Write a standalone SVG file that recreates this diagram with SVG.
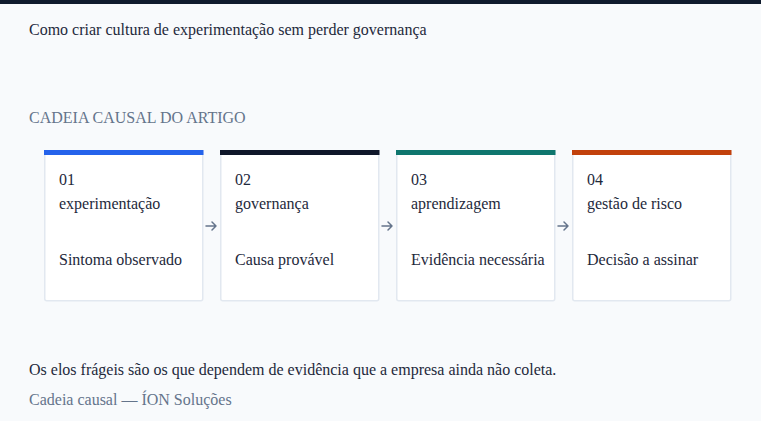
<svg xmlns="http://www.w3.org/2000/svg" width="761" height="421" viewBox="0 0 761 421">
<defs>
<style>
text{font-family:"Liberation Serif","Times New Roman",serif;font-size:16px}
.dark{fill:#1e293b}
.muted{fill:#64748b}
.card{fill:#ffffff;stroke:#e2e8f0;stroke-width:1.5}
.conn{stroke:#64748b;stroke-width:1.5;fill:none;stroke-linecap:round;stroke-linejoin:round}
</style>
</defs>
<rect x="0" y="0" width="761" height="421" fill="#f8fafc"/>
<rect x="0" y="0" width="761" height="4" fill="#0f1b2d"/>
<text x="29" y="35" class="dark">Como criar cultura de experimentação sem perder governança</text>
<text x="29" y="123" class="muted">CADEIA CAUSAL DO ARTIGO</text>

<g id="node-01">
<rect class="card" x="44.75" y="150.75" width="158" height="150" rx="2"/>
<rect x="44" y="150" width="159.5" height="5" fill="#2563eb"/>
<text x="59" y="185" class="dark">01</text>
<text x="59" y="209" class="dark">experimentação</text>
<text x="59" y="265" class="dark">Sintoma observado</text>
</g>
<g id="node-02">
<rect class="card" x="220.75" y="150.75" width="158" height="150" rx="2"/>
<rect x="220" y="150" width="159.5" height="5" fill="#0f172a"/>
<text x="235" y="185" class="dark">02</text>
<text x="235" y="209" class="dark">governança</text>
<text x="235" y="265" class="dark">Causa provável</text>
</g>
<g id="node-03">
<rect class="card" x="396.75" y="150.75" width="158" height="150" rx="2"/>
<rect x="396" y="150" width="159.5" height="5" fill="#0f766e"/>
<text x="411" y="185" class="dark">03</text>
<text x="411" y="209" class="dark">aprendizagem</text>
<text x="411" y="265" class="dark">Evidência necessária</text>
</g>
<g id="node-04">
<rect class="card" x="572.75" y="150.75" width="158" height="150" rx="2"/>
<rect x="572" y="150" width="159.5" height="5" fill="#c2410c"/>
<text x="587" y="185" class="dark">04</text>
<text x="587" y="209" class="dark">gestão de risco</text>
<text x="587" y="265" class="dark">Decisão a assinar</text>
</g>

<g id="connectors">
<path class="conn" d="M206 226H216M212 222L216 226L212 230"/>
<path class="conn" d="M382 226H392M388 222L392 226L388 230"/>
<path class="conn" d="M558 226H568M564 222L568 226L564 230"/>
</g>

<text x="29" y="375" class="dark">Os elos frágeis são os que dependem de evidência que a empresa ainda não coleta.</text>
<text x="29" y="405" class="muted">Cadeia causal — ÍON Soluções</text>
</svg>
